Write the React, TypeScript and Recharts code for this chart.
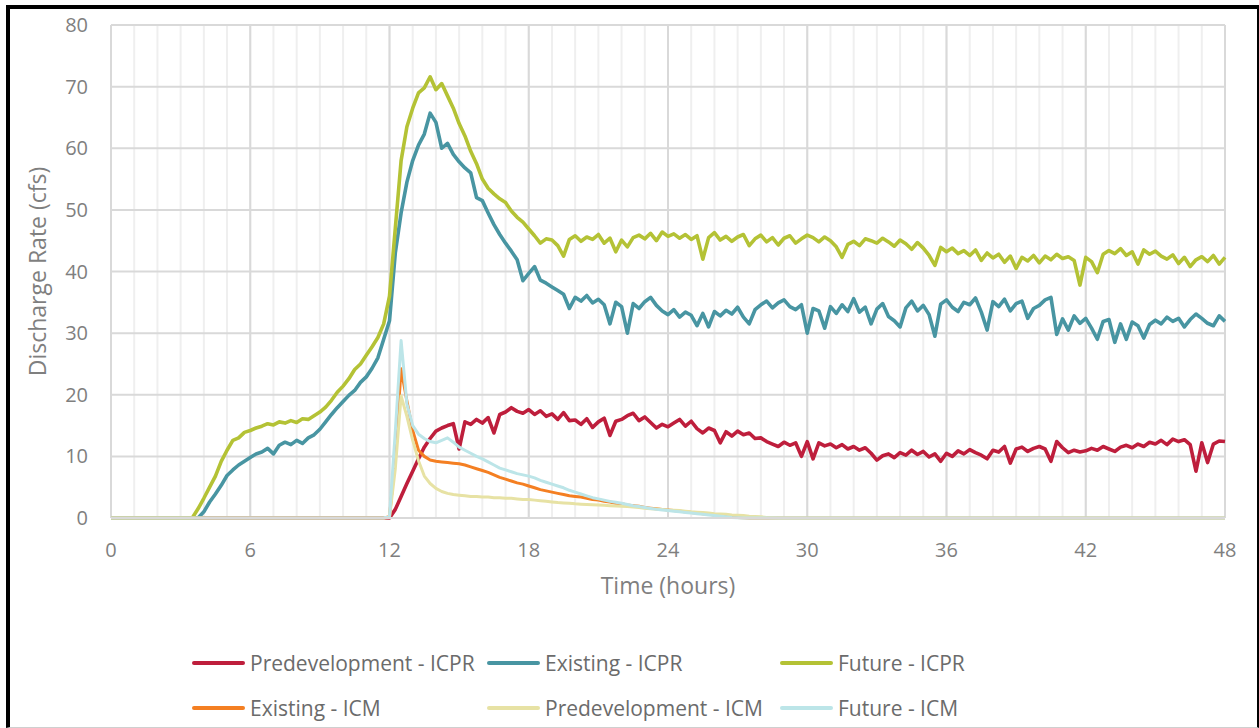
import React from "react";
import { CartesianGrid, Legend, Line, LineChart, XAxis, YAxis } from "recharts";

// time step of the hydrographs: 0.25 h, 0 .. 48 h
const STEP = 0.25;
const HOURS = Array.from({ length: 193 }, (_, i) => i * STEP);
const MAJOR_TICKS = [0, 6, 12, 18, 24, 30, 36, 42, 48];
const MINOR_TICKS = Array.from({ length: 49 }, (_, i) => i);
const Y_TICKS = [0, 10, 20, 30, 40, 50, 60, 70, 80];

// ICPR results, one value per 0.25 h (rows = 2 hours)
const predevIcpr = [
  0, 0, 0, 0, 0, 0, 0, 0,
  0, 0, 0, 0, 0, 0, 0, 0,
  0, 0, 0, 0, 0, 0, 0, 0,
  0, 0, 0, 0, 0, 0, 0, 0,
  0, 0, 0, 0, 0, 0, 0, 0,
  0, 0, 0, 0, 0, 0, 0, 0,
  0, 1.4, 3.5, 5.6, 7.6, 9.6, 11.5, 12.9,
  14.1, 14.6, 15.0, 15.3, 11.2, 15.6, 15.2, 16.0,
  15.4, 16.3, 13.8, 16.8, 17.2, 17.9, 17.3, 17.0,
  17.6, 16.8, 17.4, 16.5, 16.9, 16.0, 17.1, 15.8,
  15.9, 15.2, 16.1, 14.7, 15.6, 16.2, 13.4, 15.7,
  16.0, 16.6, 17.0, 15.8, 16.4, 15.5, 14.6, 15.2,
  14.8, 15.4, 16.0, 14.9, 15.7, 14.5, 13.8, 14.6,
  14.2, 12.2, 14.0, 13.3, 14.1, 13.5, 13.8, 12.9,
  13.0, 12.4, 12.0, 11.6, 12.3, 11.8, 12.2, 10.0,
  12.4, 9.6, 12.2, 11.7, 12.0, 11.4, 11.9, 11.2,
  11.6, 11.0, 11.4, 10.5, 9.4, 10.1, 10.4, 9.8,
  10.6, 10.2, 11.0, 10.3, 10.8, 9.9, 10.4, 9.2,
  10.5, 10.0, 10.9, 10.4, 11.1, 10.6, 10.2, 9.6,
  11.0, 10.7, 11.6, 8.9, 11.2, 11.5, 10.8, 11.3,
  11.6, 11.2, 9.2, 12.4, 11.4, 10.6, 11.0, 10.7,
  10.9, 11.3, 11.0, 11.6, 11.2, 10.8, 11.5, 11.8,
  11.4, 12.0, 11.6, 12.3, 12.0, 12.6, 11.9, 12.8,
  12.4, 12.7, 11.9, 7.6, 12.2, 9.0, 12.0, 12.5,
  12.4,
];

const existingIcpr = [
  0, 0, 0, 0, 0, 0, 0, 0,
  0, 0, 0, 0, 0, 0, 0, 0,
  1.0, 2.6, 3.9, 5.3, 6.9, 7.8, 8.6, 9.2,
  9.8, 10.4, 10.7, 11.3, 10.4, 11.8, 12.3, 11.9,
  12.6, 12.1, 13.0, 13.5, 14.4, 15.6, 16.8, 17.9,
  18.9, 19.9, 20.7, 22.0, 22.9, 24.3, 26.0, 29.0,
  32, 43, 49.5, 54.5, 58, 60.5, 62.3, 65.7,
  64.2, 60.0, 60.8, 59.0, 57.8, 56.8, 56.0, 52.0,
  51.5, 49.5, 47.6, 46.0, 44.6, 43.3, 41.9, 38.5,
  39.7, 40.8, 38.6, 38.1, 37.5, 36.9, 36.3, 34.0,
  35.8, 35.2, 36.1, 34.9, 35.5, 34.6, 31.5, 35.0,
  34.3, 30.0, 34.8, 34.0, 35.1, 35.8, 34.5, 33.6,
  33.0, 33.8, 32.6, 33.4, 32.9, 31.2, 33.2, 31.0,
  33.5, 32.8, 33.7, 33.1, 34.2, 32.6, 31.5, 33.8,
  34.6, 35.2, 34.1, 34.9, 35.4, 34.3, 33.8, 34.6,
  30.0, 34.0, 33.6, 30.8, 34.3, 33.2, 34.6, 33.5,
  35.6, 33.4, 34.2, 31.5, 33.9, 34.8, 32.7, 32.0,
  31.0, 34.1, 35.2, 33.6, 34.5, 33.0, 29.5, 34.7,
  35.4, 34.2, 33.5, 35.0, 34.6, 35.7, 33.4, 30.5,
  35.1, 34.3, 35.5, 33.6, 34.8, 35.2, 32.4, 34.0,
  34.5, 35.4, 35.8, 29.8, 32.3, 30.5, 32.8, 31.6,
  32.4, 30.8, 29.0, 31.9, 32.2, 28.5, 31.5, 29.0,
  31.8, 31.2, 29.2, 31.4, 32.1, 31.5, 32.6, 31.9,
  32.4, 31.0, 32.2, 33.1, 32.4, 31.6, 31.2, 32.8,
  31.9,
];

const futureIcpr = [
  0, 0, 0, 0, 0, 0, 0, 0,
  0, 0, 0, 0, 0, 0, 0, 1.5,
  3.2, 5.0, 6.8, 9.2, 11.0, 12.6, 13.0, 13.9,
  14.2, 14.6, 14.9, 15.3, 15.1, 15.6, 15.4, 15.8,
  15.5, 16.1, 16.0, 16.6, 17.2, 18.0, 19.1, 20.4,
  21.4, 22.6, 24.1, 25.0, 26.4, 27.8, 29.3, 31.5,
  36, 47, 58, 63.5, 66.5, 69, 69.8, 71.6,
  69.5, 70.5, 68.5, 66.5, 64, 62, 59.5, 57.5,
  55, 53.5, 52.6, 51.8, 51.2, 49.8, 48.8, 48.0,
  46.9, 45.8, 44.6, 45.3, 45.1, 44.2, 42.5, 45.2,
  45.8, 44.9, 45.6, 45.2, 46.0, 44.6, 45.4, 43.2,
  45.1, 44.0, 45.5, 45.9, 45.3, 46.2, 45.0, 46.4,
  45.7, 46.1, 45.4, 46.0, 45.2, 45.8, 42.0, 45.5,
  46.3, 45.1, 45.7, 44.9, 45.6, 46.0, 44.2, 45.3,
  45.9, 44.8, 45.5, 44.3, 45.4, 45.8, 44.6, 45.3,
  45.9, 45.5, 44.8, 45.6, 45.0, 44.0, 42.3, 44.4,
  44.9, 44.2, 45.3, 45.0, 44.6, 45.4, 44.8, 44.1,
  45.1, 44.5, 43.6, 44.7, 43.8, 42.6, 41.0, 43.9,
  43.2, 43.8, 42.9, 43.4, 42.6, 43.5, 41.8, 43.0,
  42.2, 42.8, 41.5, 42.5, 40.5, 42.3, 41.7, 42.6,
  41.4, 42.5, 41.9, 42.8, 42.1, 42.4, 41.8, 37.8,
  42.3, 41.6, 39.8, 42.8, 43.4, 42.9, 43.7, 42.6,
  43.2, 41.2, 43.5, 42.8, 43.3, 42.5, 42.0, 42.7,
  41.3, 42.3, 40.8, 41.9, 42.4, 41.6, 42.6, 41.2,
  42.3,
];

// ICM results, 12 h .. 29 h (zero outside)
const ICM_START = 12;
const existingIcm = [
  0.2, 10.0, 24.2, 19.0, 14.2, 11.0, 10.0, 9.4,
  9.2, 9.1, 9.0, 8.9, 8.8, 8.6, 8.3, 8.0,
  7.7, 7.4, 7.0, 6.6, 6.3, 6.0, 5.7, 5.5,
  5.2, 4.9, 4.6, 4.4, 4.2, 4.0, 3.8, 3.6,
  3.5, 3.4, 3.2, 3.0, 2.9, 2.7, 2.6, 2.4,
  2.3, 2.1, 2.0, 1.9, 1.7, 1.6, 1.5, 1.4,
  1.3, 1.2, 1.1, 1.0, 0.9, 0.8, 0.7, 0.6,
  0.5, 0.4, 0.3, 0.2, 0.1, 0.05, 0, 0,
  0, 0, 0, 0, 0,
];

const predevIcm = [
  0.1, 8.0, 19.8, 16.5, 12.6, 9.3, 6.8, 5.6,
  4.8, 4.3, 4.0, 3.8, 3.7, 3.6, 3.5, 3.5,
  3.4, 3.4, 3.3, 3.3, 3.2, 3.2, 3.1, 3.0,
  3.0, 2.9, 2.8, 2.7, 2.6, 2.5, 2.45, 2.4,
  2.3, 2.25, 2.2, 2.15, 2.1, 2.05, 2.0, 1.95,
  1.9, 1.85, 1.8, 1.7, 1.6, 1.5, 1.45, 1.4,
  1.3, 1.25, 1.2, 1.1, 1.0, 0.95, 0.9, 0.8,
  0.7, 0.65, 0.6, 0.5, 0.45, 0.4, 0.3, 0.25,
  0.2, 0.1, 0.05, 0, 0,
];

const futureIcm = [
  0.3, 14.0, 28.8, 18.5, 15.0, 13.6, 12.9, 12.4,
  12.2, 12.6, 13.0, 12.3, 11.5, 11.0, 10.5, 10.0,
  9.6, 9.1, 8.6, 8.1, 7.8, 7.5, 7.2, 7.0,
  6.8, 6.5, 6.1, 5.8, 5.5, 5.2, 4.9, 4.5,
  4.2, 3.9, 3.6, 3.3, 3.1, 2.9, 2.7, 2.55,
  2.4, 2.2, 2.0, 1.85, 1.7, 1.55, 1.4, 1.3,
  1.2, 1.1, 1.0, 0.9, 0.8, 0.7, 0.6, 0.5,
  0.4, 0.3, 0.2, 0.1, 0.05, 0, 0, 0,
  0, 0, 0, 0, 0,
];

const icmAt = (arr: number[], i: number) => {
  const k = i - ICM_START / STEP;
  return k >= 0 && k < arr.length ? arr[k] : 0;
};

const data = HOURS.map((hour, i) => ({
  hour,
  predevIcpr: predevIcpr[i],
  existingIcpr: existingIcpr[i],
  futureIcpr: futureIcpr[i],
  existingIcm: icmAt(existingIcm, i),
  predevIcm: icmAt(predevIcm, i),
  futureIcm: icmAt(futureIcm, i),
}));

const SERIES = [
  { key: "predevIcpr", name: "Predevelopment - ICPR", color: "#be1e3c", width: 3.6 },
  { key: "existingIcpr", name: "Existing - ICPR", color: "#4895a2", width: 3.6 },
  { key: "futureIcpr", name: "Future - ICPR", color: "#b4c235", width: 3.6 },
  { key: "existingIcm", name: "Existing - ICM", color: "#f47f22", width: 3 },
  { key: "predevIcm", name: "Predevelopment - ICM", color: "#e7e2a4", width: 3 },
  { key: "futureIcm", name: "Future - ICM", color: "#bce5e8", width: 3 },
];

const FONT = "'Open Sans', sans-serif";
const GREY = "#7f7f7f";

function LegendBox() {
  return (
    <div
      style={{
        display: "grid",
        gridTemplateColumns: "295px 293px 293px",
        gridAutoRows: "45px",
        fontFamily: FONT,
        fontSize: 21,
        color: "#6b6b6b",
      }}
    >
      {SERIES.map((s) => (
        <div key={s.key} style={{ display: "flex", alignItems: "center", whiteSpace: "nowrap" }}>
          <span
            style={{
              display: "inline-block",
              width: 53,
              height: 4,
              borderRadius: 2,
              background: s.color,
              marginRight: 5,
            }}
          />
          {s.name}
        </div>
      ))}
    </div>
  );
}

export default function App() {
  return (
    <div style={{ position: "absolute", left: 0, top: 0, width: 1259, height: 728, background: "#fff" }}>
      <div
        style={{
          position: "absolute",
          left: 6,
          top: 5,
          width: 1253,
          height: 723,
          boxSizing: "border-box",
          borderLeft: "4px solid #000",
          borderTop: "4px solid #000",
          borderRight: "2px solid #000",
          borderBottom: "1px solid #cfcfcf",
        }}
      />
      <LineChart
        width={1259}
        height={728}
        data={data}
        margin={{ top: 25, right: 34, left: 20, bottom: 150 }}
        style={{ position: "absolute", left: 0, top: 0 }}
      >
        <CartesianGrid horizontal={false} verticalValues={MINOR_TICKS} stroke="#efefef" strokeWidth={2} />
        <CartesianGrid stroke="#d9d9d9" strokeWidth={2} />
        <XAxis
          dataKey="hour"
          type="number"
          domain={[0, 48]}
          ticks={MAJOR_TICKS}
          height={60}
          tickLine={false}
          tickSize={0}
          tickMargin={25}
          axisLine={{ stroke: "#d9d9d9", strokeWidth: 2 }}
          tick={{ fill: GREY, fontSize: 20, fontFamily: FONT }}
          label={{
            value: "Time (hours)",
            position: "bottom",
            offset: 0,
            style: { fill: GREY, fontSize: 23, fontFamily: FONT },
          }}
        />
        <YAxis
          type="number"
          domain={[0, 80]}
          ticks={Y_TICKS}
          width={91}
          axisLine={false}
          tickLine={false}
          tickSize={0}
          tickMargin={23}
          tick={{ fill: GREY, fontSize: 20, fontFamily: FONT }}
          label={{
            value: "Discharge Rate (cfs)",
            angle: -90,
            position: "insideLeft",
            offset: 18,
            style: { fill: GREY, fontSize: 23, fontFamily: FONT, textAnchor: "middle" },
          }}
        />
        {SERIES.map((s) => (
          <Line
            key={s.key}
            type="linear"
            dataKey={s.key}
            name={s.name}
            stroke={s.color}
            strokeWidth={s.width}
            strokeLinejoin="round"
            dot={false}
            activeDot={false}
            isAnimationActive={false}
          />
        ))}
        <Legend
          layout="horizontal"
          verticalAlign="middle"
          align="center"
          wrapperStyle={{ left: 192, top: 640, width: 900 }}
          content={() => <LegendBox />}
        />
      </LineChart>
    </div>
  );
}
